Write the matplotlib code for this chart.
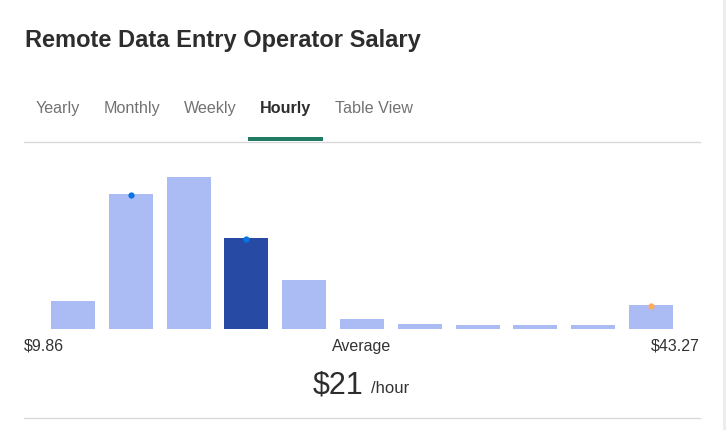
"""
Histograma de salários por hora — Remote Data Entry Operator
=============================================================
Recria o cartão de salários: abas, barras do histograma e média.
"""

import matplotlib
matplotlib.use("Agg")
import matplotlib.pyplot as plt
import numpy as np

W, H = 726, 430

TITLE = "Remote Data Entry Operator Salary"
TABS = ["Yearly", "Monthly", "Weekly", "Hourly", "Table View"]
ACTIVE_TAB = "Hourly"
# alturas relativas das barras do histograma
BIN_HEIGHTS = [28, 135, 152, 91, 49, 10, 5, 4, 4, 4, 24]
HIGHLIGHT_BIN = 3
BLUE_DOT_BINS = [1, 3]
ORANGE_DOT_BINS = [10]
MIN_LABEL = "$9.86"
MAX_LABEL = "$43.27"
AVG_LABEL = "Average"
AVG_VALUE = "$21"
AVG_UNIT = "/hour"

FONT = ["Liberation Sans", "DejaVu Sans"]
LIGHT = "#abbcf4"
DARK = "#274aa5"


def fx(px):
    return px / W


def fy(py):
    return 1 - py / H


fig = plt.figure(figsize=(W / 100, H / 100), dpi=100)
fig.patch.set_facecolor("white")

# título
fig.text(fx(25), fy(47), TITLE, family=FONT, fontsize=17,
         fontweight="bold", color="#2d2d2d", va="baseline", ha="left")

# abas
tab_x = [36, 104, 184, 260, 335]
for name, x in zip(TABS, tab_x):
    active = name == ACTIVE_TAB
    fig.text(fx(x), fy(113), name, family=FONT, fontsize=11.6,
             fontweight="bold" if active else "normal",
             color="#2d2d2d" if active else "#727272",
             va="baseline", ha="left")

# linhas separadoras e sublinhado da aba ativa
line_ax = fig.add_axes([0, 0, 1, 1])
line_ax.set_xlim(0, W)
line_ax.set_ylim(H, 0)
line_ax.axis("off")
line_ax.plot([24, 700], [141.5, 141.5], color="#d9d9d9", lw=1)
line_ax.plot([24, 700], [417.5, 417.5], color="#d9d9d9", lw=1)
line_ax.fill_between([248, 323], 137, 141, color="#217a63", lw=0)
line_ax.plot([724, 724], [0, H], color="#ececec", lw=2)

# histograma: centro da barra 0 em 73 px, passo de 57.8 px
ax_left, ax_right, ax_bottom, ax_top = 25, 700, 329, 160
ax = fig.add_axes([fx(ax_left), fy(ax_bottom),
                   fx(ax_right - ax_left), (ax_bottom - ax_top) / H])
step = 57.8
x = np.arange(len(BIN_HEIGHTS))
colors = [DARK if i == HIGHLIGHT_BIN else LIGHT for i in x]
ax.bar(x, BIN_HEIGHTS, width=44 / step, color=colors, lw=0)
ax.plot(BLUE_DOT_BINS, [BIN_HEIGHTS[i] - 1 for i in BLUE_DOT_BINS], "o",
        color="#0b74e5", ms=4.5, mew=0)
ax.plot(ORANGE_DOT_BINS, [BIN_HEIGHTS[i] - 1 for i in ORANGE_DOT_BINS], "o",
        color="#ffab5c", ms=4.5, mew=0)
ax.set_xlim((ax_left - 73) / step, (ax_right - 73) / step)
ax.set_ylim(0, ax_bottom - ax_top)
ax.axis("off")

# rótulos do eixo e média
fig.text(fx(24), fy(351), MIN_LABEL, family=FONT, fontsize=11.5,
         color="#333333", va="baseline", ha="left")
fig.text(fx(362), fy(351), AVG_LABEL, family=FONT, fontsize=11.5,
         color="#333333", va="baseline", ha="center")
fig.text(fx(700), fy(351), MAX_LABEL, family=FONT, fontsize=11.5,
         color="#333333", va="baseline", ha="right")
fig.text(fx(313), fy(394), AVG_VALUE, family=FONT, fontsize=22,
         color="#2d2d2d", va="baseline", ha="left")
fig.text(fx(371), fy(393), AVG_UNIT, family=FONT, fontsize=12,
         color="#333333", va="baseline", ha="left")

fig.savefig("out.png", dpi=100, facecolor="white")
